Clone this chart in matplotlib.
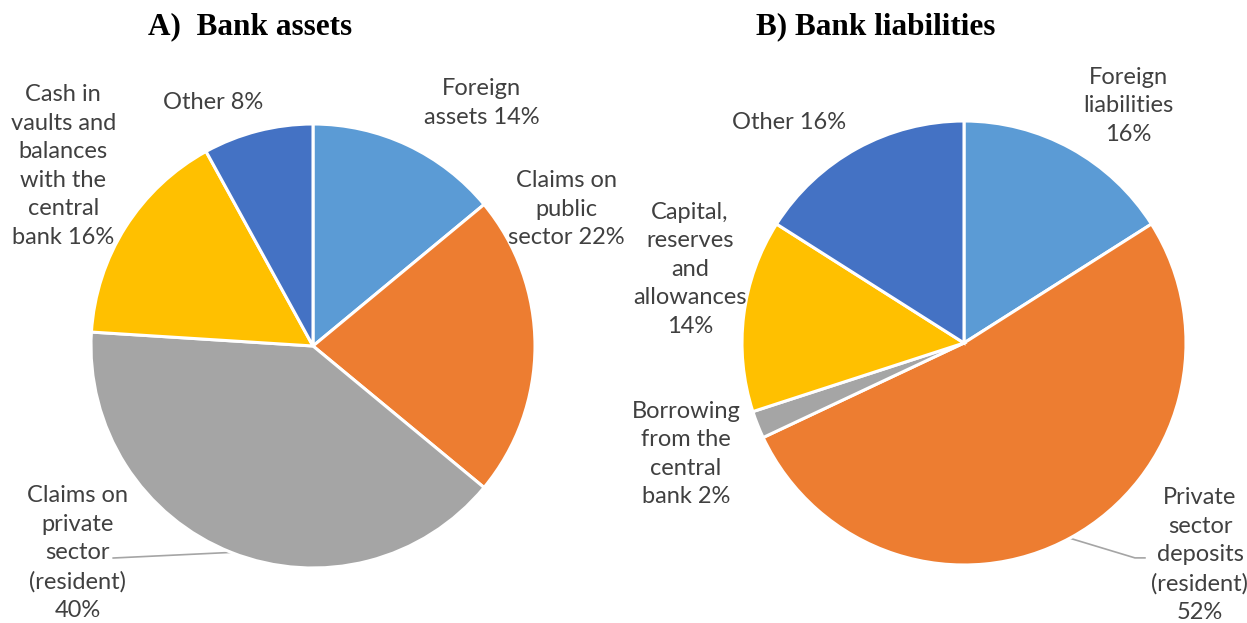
import matplotlib.pyplot as plt

# Bank balance sheet composition (shares in %)
asset_labels = ["Foreign\nassets", "Claims on\npublic\nsector", "Claims on\nprivate\nsector\n(resident)",
                "Cash in\nvaults and\nbalances\nwith the\ncentral\nbank", "Other"]
asset_values = [14, 22, 40, 16, 8]

liab_labels = ["Foreign\nliabilities", "Private\nsector\ndeposits\n(resident)", "Borrowing\nfrom the\ncentral\nbank",
               "Capital,\nreserves\nand\nallowances", "Other"]
liab_values = [16, 52, 2, 14, 16]

colors = ["#5B9BD5", "#ED7D31", "#A5A5A5", "#FFC000", "#4472C4"]

# label anchor points (pie radius = 1) and how the value joins the text
asset_pos = [(0.76, 1.095), (1.14, 0.617), (-1.06, -0.932), (-1.125, 0.811), (-0.45, 1.095)]
asset_join = [" ", " ", "\n", " ", " "]
liab_pos = [(0.74, 1.068), (1.063, -0.955), (-1.252, -0.50), (-1.234, 0.333), (-0.79, 0.995)]
liab_join = ["\n", "\n", " ", "\n", " "]

W, H = 1247, 623
R = 222.0
fig = plt.figure(figsize=(W / 100, H / 100), dpi=100)

TEXT = "#404040"
label_font = dict(family="Lato", fontsize=17, color=TEXT, ha="center", va="center", linespacing=1.44)


def draw_pie(x0, x1, cx, cy, values, labels, pos, join):
    # cx, cy: pie centre in pixels (y from top)
    ax = fig.add_axes([x0 / W, 0, (x1 - x0) / W, 1])
    ax.pie(values, colors=colors, startangle=90, counterclock=False, radius=1.0,
           wedgeprops=dict(edgecolor="white", linewidth=2.2))
    ax.set_xlim(-(cx - x0) / R, (x1 - cx) / R)
    ax.set_ylim(-(H - cy) / R, cy / R)
    ax.set_axis_off()
    for v, lab, (x, y), j in zip(values, labels, pos, join):
        ax.text(x, y, f"{lab}{j}{v}%", **label_font)
    return ax


ax1 = draw_pie(0, 623, 313, 346, asset_values, asset_labels, asset_pos, asset_join)
ax1.plot([-0.9, -0.374], [-0.955, -0.93], color="#A5A5A5", lw=1.2, zorder=0)

ax2 = draw_pie(623, 1247, 964, 343, liab_values, liab_labels, liab_pos, liab_join)
ax2.plot([0.482, 0.77, 0.815], [-0.881, -0.968, -0.968], color="#A5A5A5", lw=1.2, zorder=0)

title_font = dict(family="Liberation Serif", fontsize=22.5, fontweight="bold", color="black",
                  ha="center", va="center")
fig.text(250 / W, 1 - 27 / H, "A)  Bank assets", **title_font)
fig.text(876 / W, 1 - 27 / H, "B) Bank liabilities", **title_font)

fig.savefig("out.png", dpi=100)
